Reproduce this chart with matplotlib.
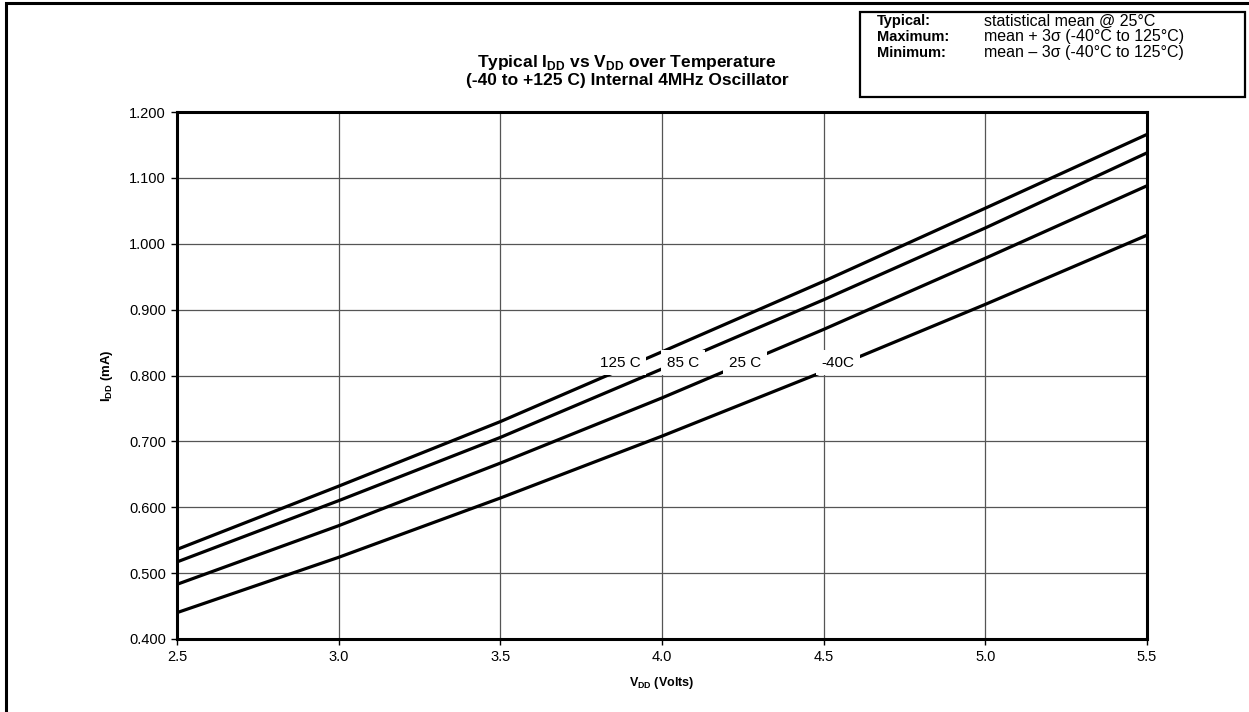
import matplotlib.pyplot as plt
from matplotlib.patches import Rectangle

plt.rcParams['font.family'] = ['Liberation Sans', 'DejaVu Sans']

# data
vdd = [2.5, 3.0, 3.5, 4.0, 4.5, 5.0, 5.5]
idd_125c = [0.536, 0.632, 0.730, 0.836, 0.943, 1.054, 1.166]
idd_85c = [0.517, 0.610, 0.706, 0.810, 0.915, 1.024, 1.138]
idd_25c = [0.483, 0.572, 0.667, 0.766, 0.870, 0.978, 1.088]
idd_m40c = [0.440, 0.524, 0.614, 0.708, 0.806, 0.908, 1.013]

series = [idd_125c, idd_85c, idd_25c, idd_m40c]
labels = ["125 C", "85 C", "25 C", "-40C"]
label_x = [3.87, 4.065, 4.257, 4.545]
label_y = 0.819

x_ticks = [2.5, 3.0, 3.5, 4.0, 4.5, 5.0, 5.5]
y_ticks = [0.4, 0.5, 0.6, 0.7, 0.8, 0.9, 1.0, 1.1, 1.2]

W, H = 1249, 712
fig = plt.figure(figsize=(W / 100, H / 100), dpi=100)
ax = fig.add_axes([177 / W, 1 - 639 / H, (1147 - 177) / W, (639 - 112) / H])

for ys in series:
    ax.plot(vdd, ys, color="black", lw=2.3, solid_capstyle="butt", zorder=3)

for lab, lx in zip(labels, label_x):
    ax.text(lx, label_y, lab, ha="center", va="center", fontsize=11, zorder=4,
            bbox=dict(facecolor="white", edgecolor="none", pad=4))

ax.set_xlim(2.5, 5.5)
ax.set_ylim(0.4, 1.2)
ax.set_xticks(x_ticks)
ax.set_xticklabels([f"{v:.1f}" for v in x_ticks])
ax.set_yticks(y_ticks)
ax.set_yticklabels([f"{v:.3f}" for v in y_ticks])
ax.tick_params(labelsize=10.5, length=4, width=1, direction="out", pad=4)
ax.grid(True, color="#555555", lw=0.9)
ax.set_axisbelow(True)
for sp in ax.spines.values():
    sp.set_linewidth(2.2)

ax.set_xlabel(r"V$_{\mathregular{DD}}$ (Volts)", fontsize=9, fontweight="bold", labelpad=8)
ax.set_ylabel(r"I$_{\mathregular{DD}}$ (mA)", fontsize=9.5, fontweight="bold", labelpad=10)

fig.text(627 / W, 1 - 63 / H, r"Typical I$_{\mathregular{DD}}$ vs V$_{\mathregular{DD}}$ over Temperature",
         ha="center", va="center", fontsize=12.5, fontweight="bold")
fig.text(627 / W, 1 - 81 / H, "(-40 to +125 C) Internal 4MHz Oscillator",
         ha="center", va="center", fontsize=12.5, fontweight="bold")

# outer frame and note box
fig.patches.append(Rectangle((6 / W, -0.05), 1.1, 1 - 3 / H + 0.05, transform=fig.transFigure,
                             fill=False, edgecolor="black", lw=2.2))
fig.patches.append(Rectangle((860 / W, 1 - 97 / H), (1245 - 860) / W, (97 - 12) / H,
                             transform=fig.transFigure, fill=False, edgecolor="black", lw=1.6))
note_rows = [("Typical:", "statistical mean @ 25°C"),
             ("Maximum:", "mean + 3σ (-40°C to 125°C)"),
             ("Minimum:", "mean – 3σ (-40°C to 125°C)")]
for i, (k, v) in enumerate(note_rows):
    yy = 1 - (21 + 16 * i) / H
    fig.text(877 / W, yy, k, ha="left", va="center", fontsize=10.5, fontweight="bold")
    fig.text(984 / W, yy, v, ha="left", va="center", fontsize=11.5)

fig.savefig("out.png", dpi=100)
